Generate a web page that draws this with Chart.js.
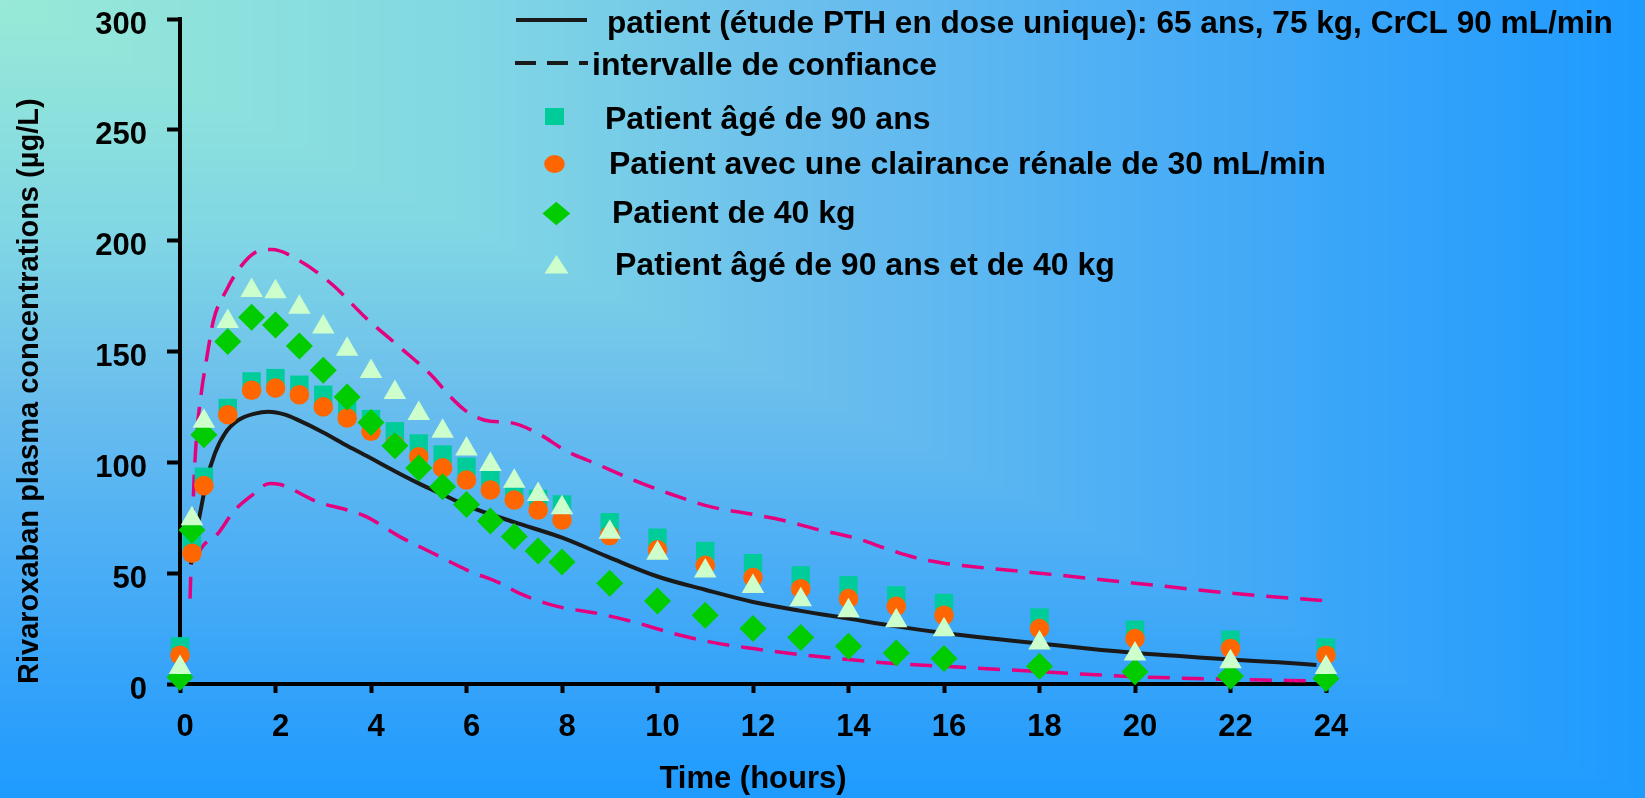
<!DOCTYPE html>
<html>
<head>
<meta charset="utf-8">
<script src="https://cdn.jsdelivr.net/npm/chart.js"></script>
<style>
  html, body { margin: 0; padding: 0; }
  #cadre { width: 1645px; height: 798px; }
</style>
</head>
<body>
<div id="cadre"><canvas id="concentration-grafica"></canvas></div>
<script>
// Temps des prélèvements (heures)
const heures = [0, 0.25, 0.5, 1, 1.5, 2, 2.5, 3, 3.5, 4, 4.5, 5, 5.5, 6, 6.5, 7, 7.5, 8, 9, 10, 11, 12, 13, 14, 15, 16, 18, 20, 22, 24];

// Concentrations (µg/L)
const agee90 = [17, 64, 93.5, 124.5, 136.5, 138, 135, 130.5, 125.5, 119.5, 114, 108.5, 103.5, 98, 92.5, 86.5, 83.5, 81, 73, 66, 60, 54.5, 49, 44.5, 40, 36.5, 30, 24.5, 20, 16.5];
const clairance30 = [13, 59, 89.5, 121.5, 132.5, 133.5, 130.5, 125, 120, 114, 108, 102.5, 97.5, 92, 87.5, 83, 78.5, 74, 67, 60.5, 53.5, 48, 43, 38.5, 35, 31, 25, 20.5, 16, 13];
const poids40 = [3, 69.5, 112.5, 154.5, 165.5, 162, 152.5, 141.5, 129.5, 118, 107.5, 97.5, 89, 81, 73.5, 66.5, 60, 55, 45.5, 37.5, 31, 25, 21, 17, 14, 11.5, 8, 5.5, 3.5, 2.5];
const agee90Poids40 = [7.5, 74.5, 118.5, 163.5, 177.5, 177, 170, 161, 151, 141, 131.5, 122, 114, 106, 99, 91.5, 85.5, 79.5, 68.5, 59, 51, 44, 38, 33, 28.5, 24.5, 18.5, 13.5, 10, 7.5];

// Courbe du patient de référence
const patientHeures = [0.23, 0.3, 0.42, 0.56, 0.73, 0.94, 1.22, 1.57, 1.85, 2.2, 2.5, 3, 3.5, 4, 4.5, 5, 5.5, 6, 7, 8, 9, 10, 11, 12, 13, 14, 15, 16, 17, 18, 19, 20, 21, 22, 23, 23.8];
const patientConc = [54, 64, 77, 92, 104, 113, 119, 122, 122.8, 121.5, 118.8, 113.5, 107.5, 101.8, 96, 90.5, 85.5, 80.5, 73, 66, 57, 48.5, 42.5, 37, 33, 29.5, 26, 23, 20.5, 18.3, 16, 14, 12.5, 11, 9.8, 8.6];

// Intervalle de confiance
const icHautHeures = [0.21, 0.25, 0.3, 0.36, 0.45, 0.56, 0.7, 0.98, 1.26, 1.6, 1.92, 2.5, 3.2, 3.9, 4.6, 5.3, 5.6, 6, 6.5, 6.9, 7.5, 8.1, 8.7, 9.5, 10.3, 11.1, 12, 12.6, 13.3, 14.2, 14.8, 15.4, 16, 16.8, 18, 20, 22, 24];
const icHautConc = [38.5, 65, 95, 115, 132, 147, 164, 178, 188, 195, 196, 191, 180, 165, 152, 138.5, 131, 123, 118.5, 118, 113, 105, 99.5, 92, 85.5, 80, 76.5, 74, 70, 65.5, 61, 57, 54.5, 52.5, 50, 45.5, 41, 37.5];
const icBasHeures = [0.3, 0.49, 0.8, 1.11, 1.5, 1.88, 2.1, 2.9, 3.5, 3.9, 4.6, 5.3, 6, 6.7, 7.1, 7.9, 8.7, 9.5, 10.3, 11.1, 12, 13.1, 14, 15.1, 16, 18, 20, 22, 23.8];
const icBasConc = [56, 62.5, 68, 77.5, 85, 90.5, 90, 82, 78.5, 75.5, 66.5, 59, 51.5, 45.5, 41, 35, 32, 28, 23, 19, 16, 13, 11, 9, 8, 5.6, 3.3, 2.1, 1.4];

const ticksX = [0, 24, 2];   // min, max, pas
const ticksY = [0, 300, 50];

const police = '"Liberation Sans", Arial, Helvetica, sans-serif';

function points(xs, ys) {
    return xs.map((x, i) => ({ x: x, y: ys[i] }));
}

// Dégradé du fond : coin haut-gauche turquoise vers bleu
const arretsFond = [
    [0, [152, 234, 214]],
    [0.3, [128, 214, 228]],
    [0.5, [106, 190, 237]],
    [0.7, [76, 174, 245]],
    [0.88, [48, 161, 250]],
    [1, [30, 155, 255]]
];
function couleurFond(s) {
    for (let i = 1; i < arretsFond.length; i++) {
        if (s <= arretsFond[i][0]) {
            const [s0, c0] = arretsFond[i - 1];
            const [s1, c1] = arretsFond[i];
            const t = (s - s0) / (s1 - s0);
            const c = c0.map((v, k) => Math.round(v + (c1[k] - v) * t));
            return `rgb(${c[0]},${c[1]},${c[2]})`;
        }
    }
    return 'rgb(30,155,255)';
}

const fond = {
    id: 'fond',
    beforeDraw(chart) {
        const { ctx, width, height } = chart;
        ctx.save();
        const pasos = 300;
        for (let k = pasos; k >= 1; k--) {
            const s = k / pasos;
            ctx.fillStyle = couleurFond(s);
            ctx.fillRect(0, 0, Math.ceil(width * s), Math.ceil(height * s));
        }
        ctx.restore();
    }
};

// Légende dessinée à la main (disposition de l'original)
const legende = {
    id: 'legende',
    afterDraw(chart) {
        const ctx = chart.ctx;
        const ds = chart.data.datasets;
        ctx.save();
        ctx.fillStyle = '#000';
        ctx.textBaseline = 'alphabetic';

        ctx.strokeStyle = '#1a1a1a';
        ctx.lineWidth = 4;
        ctx.beginPath(); ctx.moveTo(516, 20); ctx.lineTo(587, 20); ctx.stroke();
        ctx.font = 'bold 31.6px ' + police;
        ctx.fillText(ds[0].label, 607, 33);

        ctx.font = 'bold 32px ' + police;
        ctx.setLineDash([21, 11]);
        ctx.beginPath(); ctx.moveTo(515, 63); ctx.lineTo(588, 63); ctx.stroke();
        ctx.setLineDash([]);
        ctx.fillText(ds[1].label, 592, 75);

        ctx.fillStyle = ds[3].backgroundColor;
        ctx.fillRect(545, 108, 19, 17);
        ctx.fillStyle = '#000';
        ctx.fillText(ds[3].label, 605, 129);

        ctx.fillStyle = ds[4].backgroundColor;
        ctx.beginPath(); ctx.ellipse(554.5, 164, 10.3, 9, 0, 0, Math.PI * 2); ctx.fill();
        ctx.fillStyle = '#000';
        ctx.fillText(ds[4].label, 609, 174);

        ctx.fillStyle = ds[5].backgroundColor;
        ctx.beginPath();
        ctx.moveTo(542.5, 213.5); ctx.lineTo(556.3, 201.7); ctx.lineTo(570.2, 213.5); ctx.lineTo(556.3, 225.2);
        ctx.closePath(); ctx.fill();
        ctx.fillStyle = '#000';
        ctx.fillText(ds[5].label, 612, 223);

        ctx.fillStyle = ds[6].backgroundColor;
        ctx.beginPath();
        ctx.moveTo(556.5, 255); ctx.lineTo(568.5, 273.5); ctx.lineTo(544.5, 273.5);
        ctx.closePath(); ctx.fill();
        ctx.fillStyle = '#000';
        ctx.fillText(ds[6].label, 615, 275);
        ctx.restore();
    }
};

const marqueur = (label, data, style, couleur, rayon, ordre) => ({
    label: label,
    data: points(heures, data),
    showLine: false,
    pointStyle: style,
    pointRadius: rayon,
    pointHoverRadius: rayon,
    pointBorderWidth: 0,
    backgroundColor: couleur,
    borderColor: couleur,
    clip: false,
    order: ordre
});

const ctx = document.getElementById('concentration-grafica').getContext('2d');
const myChart = new Chart(ctx, {
    type: 'line',
    data: {
        datasets: [
            {
                label: 'patient (étude PTH en dose unique): 65 ans, 75 kg, CrCL 90 mL/min',
                data: points(patientHeures, patientConc),
                borderColor: '#1a1a1a',
                borderWidth: 4,
                pointRadius: 0,
                cubicInterpolationMode: 'monotone',
                order: 5
            },
            {
                label: 'intervalle de confiance',
                data: points(icHautHeures, icHautConc),
                borderColor: '#e5007e',
                borderWidth: 3.5,
                borderDash: [22, 12],
                pointRadius: 0,
                cubicInterpolationMode: 'monotone',
                order: 6
            },
            {
                label: 'intervalle de confiance (bas)',
                data: points(icBasHeures, icBasConc),
                borderColor: '#e5007e',
                borderWidth: 3.5,
                borderDash: [22, 12],
                pointRadius: 0,
                cubicInterpolationMode: 'monotone',
                order: 7
            },
            marqueur('Patient âgé de 90 ans', agee90, 'rect', '#00cc99', 13, 4),
            marqueur('Patient avec une clairance rénale de 30 mL/min', clairance30, 'circle', '#ff6600', 9.8, 3),
            marqueur('Patient de 40 kg', poids40, 'rectRot', '#00cc00', 13.5, 2),
            marqueur('Patient âgé de 90 ans et de 40 kg', agee90Poids40, 'triangle', '#ccffcc', 13, 1)
        ]
    },
    options: {
        responsive: true,
        maintainAspectRatio: false,
        animation: false,
        events: [],
        layout: { padding: { top: 19, right: 319, bottom: 0, left: 0 } },
        plugins: {
            legend: { display: false },
            tooltip: { enabled: false }
        },
        scales: {
            x: {
                type: 'linear',
                min: ticksX[0],
                max: ticksX[1],
                afterFit: (scale) => { scale.height = 114; },
                ticks: {
                    stepSize: ticksX[2],
                    color: '#000',
                    font: { family: police, size: 31, weight: 'bold', lineHeight: 1 },
                    padding: 19,
                    labelOffset: 5,
                    maxRotation: 0
                },
                grid: { drawOnChartArea: false, drawTicks: true, tickLength: 9, tickWidth: 4, tickColor: '#000' },
                border: { color: '#000', width: 4 },
                title: {
                    display: true,
                    text: 'Time (hours)',
                    color: '#000',
                    font: { family: police, size: 31, weight: 'bold' },
                    padding: { top: 0, bottom: 0 }
                }
            },
            y: {
                min: ticksY[0],
                max: ticksY[1],
                afterFit: (scale) => {
                    scale.width = 180;
                    scale.paddingTop = 0;
                    scale.paddingBottom = 0;
                },
                ticks: {
                    stepSize: ticksY[2],
                    color: '#000',
                    font: { family: police, size: 31, weight: 'bold', lineHeight: 1 },
                    padding: 20,
                    labelOffset: 6
                },
                grid: { drawOnChartArea: false, drawTicks: true, tickLength: 13, tickWidth: 4, tickColor: '#000' },
                border: { color: '#000', width: 4 },
                title: {
                    display: true,
                    text: 'Rivaroxaban plasma concentrations (µg/L)',
                    align: 'start',
                    color: '#000',
                    font: { family: police, size: 29, weight: 'bold' },
                    padding: { top: 13, bottom: 0 }
                }
            }
        }
    },
    plugins: [fond, legende]
});
</script>
</body>
</html>
